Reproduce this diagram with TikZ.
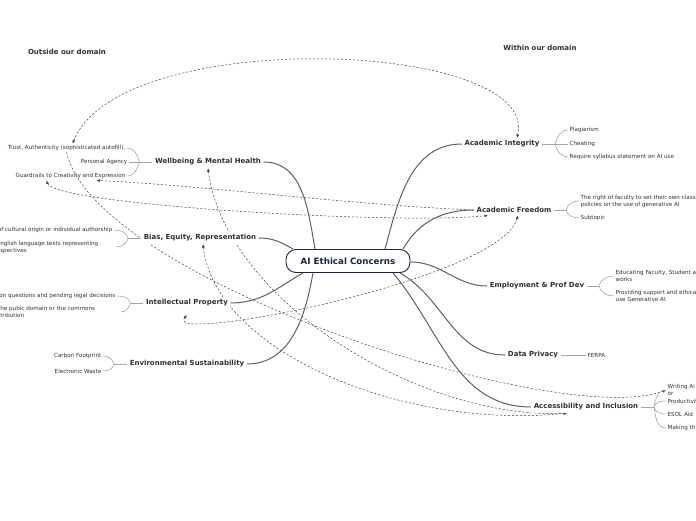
\documentclass[tikz,border=0pt]{standalone}
\usepackage{fontspec}
\setmainfont{DejaVu Sans}
\usepackage{tikz}
\usetikzlibrary{positioning,arrows.meta,calc,backgrounds}
\usepackage{xcolor}
\definecolor{navy}{RGB}{22,36,70}
\definecolor{brline}{RGB}{95,95,95}
\definecolor{subline}{RGB}{165,165,165}
\definecolor{txt}{RGB}{48,48,48}
\definecolor{reln}{RGB}{70,70,70}

\begin{document}
\begin{tikzpicture}[x=1pt,y=-1pt]
\tikzset{
  CT/.style={draw=navy,fill=white,line width=0.9pt,rounded corners=10pt,minimum width=124pt,minimum height=23pt,font=\fontsize{8.7}{10}\selectfont\bfseries\color{navy},inner sep=2pt},
  TP/.style={fill=white,font=\fontsize{7}{8}\selectfont\bfseries\color{txt},inner sep=2.5pt},
  SR/.style={font=\fontsize{5.6}{7}\selectfont\color{txt},inner sep=1.5pt,anchor=west,align=left},
  SL/.style={font=\fontsize{5.6}{7}\selectfont\color{txt},inner sep=1.5pt,anchor=east,align=right},
  HD/.style={font=\fontsize{7}{8}\selectfont\bfseries\color{txt}},
  BR/.style={brline,line width=1pt},
  SB/.style={subline,line width=0.6pt},
  RL/.style={reln,line width=0.5pt,dash pattern=on 2.2pt off 1.8pt,>={Latex[length=3.5pt,width=3pt]}},
}
\useasboundingbox (0,0) rectangle (696,520);
\clip (0,0) rectangle (696,520);

\node[HD](outside) at (67,52){Outside our domain};
\node[HD](within)  at (540,48){Within our domain};

\node[CT](ctr) at (348,261){AI Ethical Concerns};

\node[TP](integ)   at (502,144){Academic Integrity};
\node[TP](freedom) at (514,210){Academic Freedom};
\node[TP](employ)  at (537,286){Employment \& Prof Dev};
\node[TP](privacy) at (533,355){Data Privacy};
\node[TP](access)  at (586,407){Accessibility and Inclusion};
\node[TP](wellb)   at (208,162){Wellbeing \& Mental Health};
\node[TP](bias)    at (200,238){Bias, Equity, Representation};
\node[TP](ip)      at (187,303){Intellectual Property};
\node[TP](env)     at (187,364){Environmental Sustainability};

\node[SR](plag)     at (568,130){Plagiarism};
\node[SR](cheat)    at (568,144){Cheating};
\node[SR](syll)     at (568,157){Require syllabus statement on AI use};
\node[SR](rightcls) at (579,201){The right of faculty to set their own class\\policies on the use of generative AI};
\node[SR](subt)     at (579,218){Subtopic};
\node[SR](educ)     at (614,276){Educating Faculty, Student a\\works};
\node[SR](supp)     at (614,296){Providing support and ethical\\use Generative AI};
\node[SR](ferpa)    at (586,355){FERPA};
\node[SR](writ)     at (666,390){Writing Ai\\or};
\node[SR](prod)     at (666,401){Productivit};
\node[SR](esol)     at (666,414){ESOL Aid};
\node[SR](mak)      at (666,428){Making th};

\node[SL](trust)  at (127,148){Trust, Authenticity (sophisticated autofill),};
\node[SL](agency) at (129,162){Personal Agency};
\node[SL](guard)  at (127,176){Guardrails to Creativity and Expression};
\node[SL](origin) at (114,230){of cultural origin or individual authorship};
\node[SL,text width=114pt,align=left](engl) at (116,247){nglish language texts representing\\spectives};
\node[SL](legal)  at (117,296){ion questions and pending legal decisions};
\node[SL,text width=119pt,align=left](pubic) at (121,312){he pubic domain or the commons\\tribution};
\node[SL](carbon) at (103,356){Carbon Footprint};
\node[SL](ewaste) at (103,371){Electronic Waste};

\draw[BR]([xshift=37pt]ctr.north) to[out=75,in=180](integ.west);
\draw[BR]([xshift=55pt]ctr.north) to[out=60,in=180](freedom.west);
\draw[BR]([yshift=-1pt]ctr.east) to[out=0,in=180](employ.west);
\draw[BR]([xshift=52pt]ctr.south) to[out=-30,in=180](privacy.west);
\draw[BR]([xshift=45pt]ctr.south) to[out=-50,in=180](access.west);
\draw[BR]([xshift=-33pt]ctr.north) to[out=100,in=0](wellb.east);
\draw[BR]([xshift=-55pt]ctr.north) to[out=150,in=0](bias.east);
\draw[BR]([xshift=-45pt]ctr.south) to[out=-150,in=0](ip.east);
\draw[BR]([xshift=-35pt]ctr.south) to[out=-100,in=0](env.east);

\coordinate(jinteg) at ([xshift=13pt]integ.east);
\draw[SB](integ.east)--(jinteg);
\draw[SB](jinteg) to[out=75,in=180](plag.west);
\draw[SB](jinteg)--(cheat.west);
\draw[SB](jinteg) to[out=-75,in=180](syll.west);

\coordinate(jfree) at ([xshift=12pt]freedom.east);
\draw[SB](freedom.east)--(jfree);
\draw[SB](jfree) to[out=75,in=180](rightcls.west);
\draw[SB](jfree) to[out=-75,in=180](subt.west);

\coordinate(jemp) at ([xshift=12pt]employ.east);
\draw[SB](employ.east)--(jemp);
\draw[SB](jemp) to[out=75,in=180](educ.west);
\draw[SB](jemp) to[out=-75,in=180](supp.west);

\draw[SB](privacy.east)--(ferpa.west);

\coordinate(jacc) at ([xshift=13pt]access.east);
\draw[SB](access.east)--(jacc);
\draw[SB](jacc) to[out=80,in=180](writ.west);
\draw[SB](jacc) to[out=75,in=180](prod.west);
\draw[SB](jacc) to[out=-75,in=180](esol.west);
\draw[SB](jacc) to[out=-80,in=180](mak.west);

\coordinate(jwell) at ([xshift=-13pt]wellb.west);
\draw[SB](wellb.west)--(jwell);
\draw[SB](jwell) to[out=105,in=0](trust.east);
\draw[SB](jwell)--(agency.east);
\draw[SB](jwell) to[out=-105,in=0](guard.east);

\coordinate(jbias) at ([xshift=-13pt]bias.west);
\draw[SB](bias.west)--(jbias);
\draw[SB](jbias) to[out=105,in=0](origin.east);
\draw[SB](jbias) to[out=-105,in=0](engl.east);

\coordinate(jip) at ([xshift=-13pt]ip.west);
\draw[SB](ip.west)--(jip);
\draw[SB](jip) to[out=105,in=0](legal.east);
\draw[SB](jip) to[out=-105,in=0](pubic.east);

\coordinate(jenv) at ([xshift=-13pt]env.west);
\draw[SB](env.west)--(jenv);
\draw[SB](jenv) to[out=105,in=0](carbon.east);
\draw[SB](jenv) to[out=-105,in=0](ewaste.east);

\begin{pgfonlayer}{background}
\draw[RL,<->]([xshift=6pt]trust.north) .. controls (120,25) and (540,40) .. ([xshift=15pt]integ.north);
\draw[RL,->](freedom.west) .. controls (350,205) and (200,185) .. ([xshift=26pt]guard.south);
\draw[RL,<->]([xshift=-24pt]guard.south) .. controls (55,205) and (400,225) .. ([xshift=-26pt]freedom.south);
\draw[RL,<->](wellb.south) .. controls (225,300) and (420,420) .. ([xshift=-19pt]access.south);
\draw[RL,->](trust.south) .. controls (95,280) and (560,430) .. (writ.west);
\draw[RL,<->]([xshift=3pt]bias.south) .. controls (215,350) and (400,430) .. ([xshift=-19pt]access.south);
\draw[RL,<->]([xshift=4pt]freedom.south) .. controls (500,280) and (160,345) .. ([yshift=-6pt]ip.south);
\end{pgfonlayer}
\end{tikzpicture}
\end{document}
